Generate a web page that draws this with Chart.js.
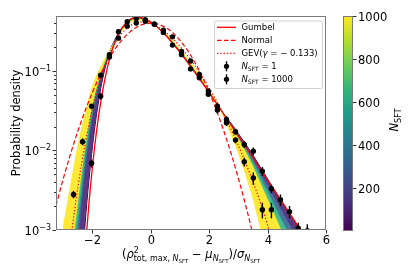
<!DOCTYPE html>
<html>
<head>
<meta charset="utf-8">
<script src="https://cdn.jsdelivr.net/npm/chart.js@4.4.1/dist/chart.umd.min.js"></script>
<style>
html, body { margin: 0; padding: 0; background: #fff; }
</style>
</head>
<body>
<canvas id="c" width="415" height="277"></canvas>
<script>
// histogram curves of the standardised max statistic, one per N_SFT
const bandX = [-3.0, -2.75, -2.5, -2.25, -2.0, -1.75, -1.5, -1.25, -1.0, -0.75, -0.5, -0.25, 0, 0.25, 0.5, 0.75, 1.0, 1.25, 1.5, 1.75, 2.0, 2.25, 2.5, 2.75, 3.0, 3.25, 3.5, 3.75, 4.0, 4.25, 4.5, 4.75, 5.0, 5.25];
const bandN1 = [1e-6, 3.16e-6, 4.9e-5, 0.00123, 0.0112, 0.0513, 0.136, 0.240, 0.343, 0.434, 0.471, 0.458, 0.411, 0.348, 0.282, 0.222, 0.171, 0.129, 0.0968, 0.0719, 0.0531, 0.0390, 0.0285, 0.0219, 0.0162, 0.0120, 0.00871, 0.00617, 0.00437, 0.00309, 0.00224, 0.00162, 0.00118, 0.000851];
const bandN250 = [3.27e-5, 1.06e-4, 7.41e-4, 0.00589, 0.0266, 0.0733, 0.147, 0.233, 0.333, 0.421, 0.458, 0.449, 0.408, 0.349, 0.286, 0.227, 0.176, 0.134, 0.100, 0.0741, 0.0543, 0.0396, 0.0283, 0.0213, 0.0155, 0.0112, 0.00789, 0.00537, 0.00364, 0.00248, 0.00171, 0.00118, 0.000803, 0.000544];
const bandN500 = [6.58e-5, 2.14e-4, 0.00128, 0.00805, 0.0316, 0.0787, 0.149, 0.230, 0.329, 0.415, 0.453, 0.445, 0.407, 0.350, 0.288, 0.230, 0.178, 0.136, 0.102, 0.0752, 0.0550, 0.0398, 0.0281, 0.0208, 0.0148, 0.01045, 0.00714, 0.00468, 0.00304, 0.00199, 0.00131, 0.000864, 0.000548, 0.000348];
const bandN750 = [1.32e-4, 4.32e-4, 0.00220, 0.0110, 0.0376, 0.0845, 0.152, 0.228, 0.325, 0.410, 0.449, 0.441, 0.406, 0.351, 0.290, 0.232, 0.181, 0.138, 0.103, 0.0762, 0.0555, 0.0401, 0.0279, 0.0201, 0.0140, 0.00958, 0.00630, 0.00394, 0.00243, 0.00152, 0.00094, 0.000583, 0.00034, 0.000208];
const bandN1000 = [0.00107, 0.00355, 0.0112, 0.0282, 0.0631, 0.105, 0.158, 0.221, 0.316, 0.398, 0.437, 0.432, 0.403, 0.352, 0.295, 0.238, 0.186, 0.143, 0.107, 0.0785, 0.0568, 0.0407, 0.0263, 0.0158, 0.00933, 0.00501, 0.00251, 0.00110, 0.000457, 0.000200, 7.94e-5, 3.16e-5, 1e-5, 3.16e-6];

// reference densities
const gumbelX = [-2.25, -2.125, -2.0, -1.875, -1.75, -1.625, -1.5, -1.375, -1.25, -1.0, -0.75, -0.5, -0.25, 0, 0.25, 0.5, 0.75, 1.0, 1.25, 1.5, 1.75, 2.0, 2.5, 3.0, 3.5, 4.0, 4.5, 5.0, 5.5];
const gumbelY = [0.000552, 0.00209, 0.0063, 0.0159, 0.0340, 0.0635, 0.1054, 0.159, 0.2198, 0.343, 0.4337, 0.4709, 0.4576, 0.4107, 0.3476, 0.2822, 0.2220, 0.1710, 0.1294, 0.0969, 0.0719, 0.0530, 0.02851, 0.01517, 0.008035, 0.004241, 0.00224, 0.00118, 0.00062];
const normalX = [-3.25, -3.0, -2.75, -2.5, -2.25, -2.0, -1.75, -1.5, -1.25, -1.0, -0.75, -0.5, -0.25, 0, 0.25, 0.5, 0.75, 1.0, 1.25, 1.5, 1.75, 2.0, 2.25, 2.5, 2.75, 3.0, 3.25, 3.5];
const normalY = [0.00203, 0.00443, 0.00909, 0.01753, 0.03174, 0.05399, 0.08628, 0.1295, 0.1826, 0.2420, 0.3011, 0.3521, 0.3867, 0.3989, 0.3867, 0.3521, 0.3011, 0.2420, 0.1826, 0.1295, 0.08628, 0.05399, 0.03174, 0.01753, 0.00909, 0.00443, 0.00203, 0.000873];
const gevX = [-2.8, -2.7, -2.6, -2.5, -2.25, -2.0, -1.75, -1.5, -1.25, -1.0, -0.75, -0.5, -0.25, 0, 0.25, 0.5, 0.75, 1.0, 1.25, 1.5, 1.75, 2.0, 2.25, 2.5, 2.75, 3.0, 3.25, 3.5, 3.75, 4.0, 4.1];
const gevY = [0.0005, 0.001015, 0.00191, 0.00345, 0.01232, 0.03384, 0.0750, 0.1376, 0.2154, 0.2950, 0.3609, 0.4012, 0.4117, 0.3947, 0.3574, 0.3081, 0.2548, 0.2032, 0.1567, 0.1174, 0.0855, 0.0606, 0.0418, 0.0280, 0.0182, 0.01144, 0.00693, 0.00402, 0.00222, 0.00115, 0.00087];

// binned samples with error bars
const binN1 = [-2.03, -1.72, -1.42, -1.11, -0.81, -0.50, -0.19, 0.12, 0.43, 0.74, 1.05, 1.36, 1.66, 1.97, 2.28, 2.59, 2.90, 3.20, 3.51, 3.82, 4.13, 4.44, 4.75, 5.05, 5.36];
const pdfN1 = [0.0069, 0.048, 0.150, 0.31, 0.414, 0.455, 0.44, 0.385, 0.305, 0.211, 0.16, 0.106, 0.082, 0.051, 0.036, 0.0245, 0.0172, 0.0119, 0.0098, 0.0055, 0.0033, 0.0024, 0.0017, 0.00105, 0.00098];
const errN1 = [0.0008, 0.0045, 0.008, 0.01, 0.01, 0.01, 0.01, 0.01, 0.01, 0.008, 0.007, 0.006, 0.005, 0.004, 0.003, 0.0025, 0.0015, 0.0012, 0.0011, 0.0007, 0.0004, 0.0004, 0.0003, 0.00018, 0.0002];
const binN1000 = [-2.65, -2.34, -2.03, -1.72, -1.42, -1.11, -0.81, -0.50, -0.19, 0.12, 0.43, 0.74, 1.05, 1.36, 1.66, 1.97, 2.28, 2.59, 2.90, 3.20, 3.51, 3.82, 4.13];
const pdfN1000 = [0.0028, 0.0129, 0.036, 0.088, 0.160, 0.258, 0.365, 0.40, 0.42, 0.39, 0.325, 0.268, 0.175, 0.133, 0.090, 0.0557, 0.0323, 0.0223, 0.0135, 0.0072, 0.0045, 0.0018, 0.0018];
const errN1000 = [0.0003, 0.0013, 0.002, 0.004, 0.006, 0.008, 0.01, 0.01, 0.01, 0.01, 0.008, 0.008, 0.006, 0.006, 0.005, 0.004, 0.003, 0.002, 0.0012, 0.0009, 0.0008, 0.0004, 0.0004];

// axis ticks
const xTicks = [-2, 0, 2, 4, 6];
const yMajorTicks = [0.001, 0.01, 0.1];
const yMinorTicks = [0.002, 0.003, 0.004, 0.005, 0.006, 0.007, 0.008, 0.009, 0.02, 0.03, 0.04, 0.05, 0.06, 0.07, 0.08, 0.09, 0.2, 0.3, 0.4];
const yTickExp = ['−3', '−2', '−1'];
const cbarTicks = [200, 400, 600, 800, 1000];
const cbarRange = [1, 1000];

const FONT = '"DejaVu Sans"';
const viridis = ['#440154', '#482878', '#3e4a89', '#31688e', '#26828e', '#1f9e89', '#35b779', '#6ece58', '#b5de2b', '#fde725'];

function pts(xs, ys) {
	return xs.map((x, i) => ({ x: x, y: ys[i] }));
}

function font(size, italic) {
	return (italic ? 'italic ' : '') + size + 'px ' + FONT;
}

// text made of pieces (sub/superscripts), left aligned on baseline y
function richWidth(ctx, parts) {
	let w = 0;
	parts.forEach(p => {
		ctx.font = font(p.s, p.it);
		if (!p.keep) w += ctx.measureText(p.t).width;
	});
	return w;
}
function drawRich(ctx, parts, x, y) {
	let cx = x;
	parts.forEach(p => {
		ctx.font = font(p.s, p.it);
		ctx.fillText(p.t, cx, y + (p.dy || 0));
		if (!p.keep) cx += ctx.measureText(p.t).width;
	});
}

const decor = {
	id: 'decor',
	afterDatasetsDraw(chart) {
		const ctx = chart.ctx, xs = chart.scales.x, ys = chart.scales.y, a = chart.chartArea;
		ctx.save();
		ctx.beginPath();
		ctx.rect(a.left, a.top, a.right - a.left, a.bottom - a.top);
		ctx.clip();
		ctx.strokeStyle = '#000';
		ctx.lineWidth = 1.4;
		chart.data.datasets.forEach(ds => {
			if (!ds.errorBars) return;
			ds.data.forEach((p, j) => {
				const e = ds.errorBars[j];
				const px = xs.getPixelForValue(p.x);
				ctx.beginPath();
				ctx.moveTo(px, ys.getPixelForValue(p.y + e));
				ctx.lineTo(px, ys.getPixelForValue(Math.max(p.y - e, 1e-7)));
				ctx.stroke();
			});
		});
		ctx.restore();
	},
	afterDraw(chart) {
		const ctx = chart.ctx, xs = chart.scales.x, ys = chart.scales.y, a = chart.chartArea;
		ctx.save();
		// frame
		ctx.strokeStyle = '#7a7a7a';
		ctx.lineWidth = 1;
		ctx.strokeRect(a.left + 0.5, a.top + 0.5, a.right - a.left - 1, a.bottom - a.top - 1);

		ctx.fillStyle = '#000';
		ctx.strokeStyle = '#333';
		// x ticks
		ctx.textAlign = 'center';
		xTicks.forEach(v => {
			const px = Math.round(xs.getPixelForValue(v)) + 0.5;
			ctx.beginPath(); ctx.moveTo(px, a.bottom); ctx.lineTo(px, a.bottom + 3.5); ctx.stroke();
			ctx.font = font(11.5);
			ctx.fillText(String(v).replace('-', '−'), px, a.bottom + 14);
		});
		// y ticks
		ctx.textAlign = 'left';
		yMinorTicks.forEach(v => {
			const py = Math.round(ys.getPixelForValue(v)) + 0.5;
			ctx.beginPath(); ctx.moveTo(a.left, py); ctx.lineTo(a.left - 2, py); ctx.stroke();
		});
		yMajorTicks.forEach((v, i) => {
			const py = Math.round(ys.getPixelForValue(v)) + 0.5;
			ctx.beginPath(); ctx.moveTo(a.left, py); ctx.lineTo(a.left - 3.5, py); ctx.stroke();
			const parts = [{ t: '10', s: 11.5 }, { t: yTickExp[i], s: 8, dy: -5 }];
			const w = richWidth(ctx, parts);
			drawRich(ctx, parts, a.left - 5 - w, py + 4);
		});
		// y title
		ctx.save();
		ctx.translate(17, (a.top + a.bottom) / 2);
		ctx.rotate(-Math.PI / 2);
		ctx.textAlign = 'center';
		ctx.textBaseline = 'middle';
		ctx.font = font(11.5);
		ctx.fillText('Probability density', 0, 0);
		ctx.restore();
		// x title
		ctx.textAlign = 'left';
		const xl = [
			{ t: '(', s: 11.5 }, { t: 'ρ', s: 11.5, it: 1 },
			{ t: '2', s: 8, dy: -5, keep: 1 },
			{ t: 'tot, max, ', s: 8, dy: 3 }, { t: 'N', s: 8, it: 1, dy: 3 }, { t: 'SFT', s: 5.5, dy: 4.5 },
			{ t: ' − ', s: 11.5 }, { t: 'μ', s: 11.5, it: 1 },
			{ t: 'N', s: 8, it: 1, dy: 3 }, { t: 'SFT', s: 5.5, dy: 4.5 },
			{ t: ')/', s: 11.5 }, { t: 'σ', s: 11.5, it: 1 },
			{ t: 'N', s: 8, it: 1, dy: 3 }, { t: 'SFT', s: 5.5, dy: 4.5 }
		];
		const xw = richWidth(ctx, xl);
		drawRich(ctx, xl, (a.left + a.right) / 2 - xw / 2, 258);

		// legend
		const lx = 214, ly = 20.5, lw = 108, lh = 67.5;
		ctx.beginPath();
		ctx.roundRect(lx + 0.5, ly + 0.5, lw, lh, 2);
		ctx.fillStyle = 'rgba(255,255,255,0.8)';
		ctx.fill();
		ctx.strokeStyle = '#d0d0d0';
		ctx.stroke();
		const rows = [
			{ ds: 2, parts: [{ t: 'Gumbel', s: 8.5 }] },
			{ ds: 3, parts: [{ t: 'Normal', s: 8.5 }] },
			{ ds: 4, parts: [{ t: 'GEV(', s: 8.5 }, { t: 'γ', s: 8.5, it: 1 }, { t: ' = − 0.133)', s: 8.5 }] },
			{ ds: 0, parts: [{ t: 'N', s: 8.5, it: 1 }, { t: 'SFT', s: 6, dy: 2 }, { t: ' = 1', s: 8.5 }] },
			{ ds: 1, parts: [{ t: 'N', s: 8.5, it: 1 }, { t: 'SFT', s: 6, dy: 2 }, { t: ' = 1000', s: 8.5 }] }
		];
		rows.forEach((r, i) => {
			const cy = 27.3 + i * 13;
			const ds = chart.data.datasets[r.ds];
			if (ds.showLine === false) {
				ctx.strokeStyle = '#000';
				ctx.lineWidth = 1.4;
				ctx.setLineDash([]);
				ctx.beginPath(); ctx.moveTo(226.5, cy - 5); ctx.lineTo(226.5, cy + 5); ctx.stroke();
				ctx.fillStyle = '#000';
				ctx.beginPath(); ctx.arc(226.5, cy, 2.6, 0, Math.PI * 2); ctx.fill();
			} else {
				ctx.strokeStyle = ds.borderColor;
				ctx.lineWidth = ds.borderWidth;
				ctx.setLineDash(ds.borderDash || []);
				ctx.beginPath(); ctx.moveTo(217, cy); ctx.lineTo(236, cy); ctx.stroke();
				ctx.setLineDash([]);
			}
			ctx.fillStyle = '#000';
			drawRich(ctx, r.parts, 241.5, cy + 3);
		});

		// colour bar
		const cbL = 343, cbR = 353, cbT = 16, cbB = 231;
		const g = ctx.createLinearGradient(0, cbB, 0, cbT);
		viridis.forEach((c, i) => g.addColorStop(i / (viridis.length - 1), c));
		ctx.fillStyle = g;
		ctx.fillRect(cbL, cbT, cbR - cbL, cbB - cbT);
		ctx.strokeStyle = '#7a7a7a';
		ctx.lineWidth = 1;
		ctx.strokeRect(cbL + 0.5, cbT + 0.5, cbR - cbL - 1, cbB - cbT - 1);
		ctx.fillStyle = '#000';
		ctx.strokeStyle = '#333';
		ctx.textAlign = 'left';
		cbarTicks.forEach(v => {
			const py = Math.round(cbB - (v - cbarRange[0]) / (cbarRange[1] - cbarRange[0]) * (cbB - cbT)) + 0.5;
			ctx.beginPath(); ctx.moveTo(cbR, py); ctx.lineTo(cbR + 3.5, py); ctx.stroke();
			ctx.font = font(11.5);
			ctx.fillText(String(v), cbR + 5, py + 4);
		});
		ctx.save();
		ctx.translate(398, 120);
		ctx.rotate(-Math.PI / 2);
		const cl = [{ t: 'N', s: 11.5, it: 1 }, { t: 'SFT', s: 8, dy: 3 }];
		const cw = richWidth(ctx, cl);
		drawRich(ctx, cl, -cw / 2, 0);
		ctx.restore();

		ctx.restore();
	}
};

const bandColors = ['#440154', '#3b528b', '#21918c', '#5ec962', '#fde725'];
const bandFills = ['', 'rgba(72,36,117,0.9)', 'rgba(53,95,141,0.88)', 'rgba(41,175,127,0.85)', 'rgba(253,231,37,0.92)'];
const bandSets = [bandN1, bandN250, bandN500, bandN750, bandN1000];

const datasets = [
	{ data: pts(binN1, pdfN1), errorBars: errN1, showLine: false, pointRadius: 2.7, pointBackgroundColor: '#000', pointBorderWidth: 0, order: 0 },
	{ data: pts(binN1000, pdfN1000), errorBars: errN1000, showLine: false, pointRadius: 2.7, pointBackgroundColor: '#000', pointBorderWidth: 0, order: 0 },
	{ data: pts(gumbelX, gumbelY), borderColor: 'red', borderWidth: 1.3, pointRadius: 0, cubicInterpolationMode: 'monotone', order: 1 },
	{ data: pts(normalX, normalY), borderColor: 'red', borderWidth: 1.2, borderDash: [4.5, 2.5], pointRadius: 0, cubicInterpolationMode: 'monotone', order: 1 },
	{ data: pts(gevX, gevY), borderColor: 'red', borderWidth: 1.2, borderDash: [1.3, 2], pointRadius: 0, cubicInterpolationMode: 'monotone', order: 1 }
];
bandSets.forEach((ys, i) => {
	datasets.push({
		data: pts(bandX, ys),
		borderColor: bandColors[i],
		borderWidth: 1,
		pointRadius: 0,
		cubicInterpolationMode: 'monotone',
		fill: i === 0 ? false : 5 + i - 1,
		backgroundColor: bandFills[i] || bandColors[i],
		order: 6 - i
	});
});

new Chart(document.getElementById('c'), {
	type: 'line',
	data: { datasets: datasets },
	options: {
		responsive: false,
		animation: false,
		devicePixelRatio: 1,
		layout: { padding: { left: 56, top: 16, right: 89, bottom: 47 } },
		plugins: { legend: { display: false }, tooltip: { enabled: false } },
		scales: {
			x: { type: 'linear', min: -3.25, max: 6, display: false },
			y: { type: 'logarithmic', min: 0.001, max: 0.49, display: false }
		}
	},
	plugins: [decor]
});
</script>
</body>
</html>
